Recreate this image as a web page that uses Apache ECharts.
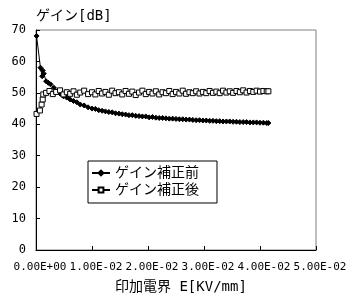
<!DOCTYPE html>
<html><head><meta charset="utf-8">
<script src="https://cdn.jsdelivr.net/npm/echarts@6/dist/echarts.min.js"></script>
<style>html,body{margin:0;padding:0;background:#fff}#c{width:355px;height:299px}</style>
</head><body><div id="c"></div>
<script>
const seriesNames = ['ゲイン補正前', 'ゲイン補正後'];
const yTitle = 'ゲイン[dB]';
const xTitle = '印加電界 E[KV/mm]';
const xTicks = [0, 0.01, 0.02, 0.03, 0.04, 0.05];
const yTicks = [0, 10, 20, 30, 40, 50, 60, 70];

const e1 = [0.0001, 0.0008, 0.0011, 0.0012, 0.0014, 0.0018, 0.0022, 0.0026, 0.0032, 0.0038,
  0.0043, 0.0049, 0.0055, 0.0061, 0.0067, 0.0073, 0.0079, 0.0086, 0.0093, 0.0100,
  0.0106, 0.0112, 0.0118, 0.0124, 0.0130, 0.0136, 0.0142, 0.0148, 0.0154, 0.0160,
  0.0166, 0.0172, 0.0178, 0.0184, 0.0190, 0.0196, 0.0202, 0.0208, 0.0214, 0.0220,
  0.0226, 0.0232, 0.0238, 0.0244, 0.0250, 0.0256, 0.0262, 0.0268, 0.0274, 0.0280,
  0.0286, 0.0292, 0.0298, 0.0304, 0.0310, 0.0316, 0.0322, 0.0328, 0.0334, 0.0340,
  0.0346, 0.0352, 0.0358, 0.0364, 0.0370, 0.0376, 0.0382, 0.0388, 0.0394, 0.0400,
  0.0406, 0.0412, 0.0415];
const g1 = [68.1, 58.0, 55.3, 57.1, 56.1, 53.7, 53.2, 52.7, 51.6, 50.5,
  49.8, 48.9, 48.5, 47.9, 47.4, 47.0, 46.3, 46.0, 45.4, 45.0,
  44.9, 44.5, 44.3, 44.1, 43.9, 43.8, 43.5, 43.4, 43.2, 43.1,
  42.9, 42.9, 42.7, 42.6, 42.5, 42.5, 42.2, 42.3, 42.1, 42.0,
  42.0, 41.9, 41.8, 41.8, 41.7, 41.6, 41.6, 41.5, 41.5, 41.4,
  41.3, 41.3, 41.2, 41.2, 41.1, 41.1, 41.0, 41.0, 40.9, 40.9,
  40.9, 40.8, 40.8, 40.7, 40.7, 40.7, 40.6, 40.6, 40.6, 40.5,
  40.5, 40.4, 40.4];

const e2 = [0.0001, 0.0007, 0.0010, 0.0012, 0.0013, 0.0018, 0.0024, 0.0030, 0.0036, 0.0043,
  0.0049, 0.0055, 0.0061, 0.0067, 0.0073, 0.0079, 0.0086, 0.0093, 0.0100,
  0.0106, 0.0112, 0.0118, 0.0124, 0.0130, 0.0136, 0.0142, 0.0148, 0.0154, 0.0160,
  0.0166, 0.0172, 0.0178, 0.0184, 0.0190, 0.0196, 0.0202, 0.0208, 0.0214, 0.0220,
  0.0226, 0.0232, 0.0238, 0.0244, 0.0250, 0.0256, 0.0262, 0.0268, 0.0274, 0.0280,
  0.0286, 0.0292, 0.0298, 0.0304, 0.0310, 0.0316, 0.0322, 0.0328, 0.0334, 0.0340,
  0.0346, 0.0352, 0.0358, 0.0364, 0.0370, 0.0376, 0.0382, 0.0388, 0.0394, 0.0400,
  0.0406, 0.0412, 0.0415];
const g2 = [43.3, 44.4, 46.3, 47.9, 49.5, 50.0, 50.6, 49.6, 50.3, 50.8,
  49.5, 50.2, 49.7, 50.5, 49.4, 50.1, 50.7, 49.6, 50.2,
  49.5, 50.6, 49.8, 50.3, 49.4, 50.7, 49.9, 50.2, 49.5, 50.6,
  49.7, 50.4, 49.3, 50.1, 50.7, 49.6, 50.3, 49.8, 50.5, 49.5,
  50.2, 49.9, 50.6, 49.6, 50.3, 49.8, 50.7, 49.7, 50.2, 49.9,
  50.5, 49.8, 50.3, 49.9, 50.6, 50.0, 50.4, 49.9, 50.7, 50.1,
  50.5, 50.0, 50.6, 50.2, 50.8, 50.1, 50.6, 50.3, 50.7, 50.4,
  50.6, 50.5, 50.5];

function fmtE(v) {
  if (Math.abs(v) < 1e-12) return '0.00E+00';
  const e = Math.floor(Math.log10(Math.abs(v)) + 1e-9);
  const m = v / Math.pow(10, e);
  return m.toFixed(2) + 'E' + (e < 0 ? '-' : '+') + String(Math.abs(e)).padStart(2, '0');
}
const pairs = (xs, ys) => xs.map((x, i) => [x, ys[i]]).filter(p => p[1] != null);

const MONO = '"DejaVu Sans Mono", "Noto Sans CJK JP", monospace';
const CJK = '"DejaVu Sans Mono", "Noto Sans CJK JP", sans-serif';

const chart = echarts.init(document.getElementById('c'), null, {renderer: 'canvas'});
chart.setOption({
  animation: false,
  backgroundColor: '#fff',
  grid: {left: 36, right: 39, top: 30, bottom: 49, show: true, borderColor: '#808080', borderWidth: 1, containLabel: false},
  xAxis: {
    type: 'value', min: xTicks[0], max: xTicks[xTicks.length - 1], interval: 0.01,
    axisLine: {show: true, lineStyle: {color: '#000', width: 1}},
    axisTick: {show: true, inside: true, length: 4, lineStyle: {color: '#000'}},
    splitLine: {show: false},
    axisLabel: {formatter: fmtE, color: '#000', fontFamily: MONO, fontSize: 11, margin: 12, padding: [0, 0, 0, 8], showMinLabel: true, showMaxLabel: true}
  },
  yAxis: {
    type: 'value', min: yTicks[0], max: yTicks[yTicks.length - 1], interval: 10,
    axisLine: {show: true, lineStyle: {color: '#000', width: 1}},
    axisTick: {show: true, inside: true, length: 4, lineStyle: {color: '#000'}},
    splitLine: {show: false},
    axisLabel: {color: '#000', fontFamily: MONO, fontSize: 12, margin: 10}
  },
  legend: {
    orient: 'vertical', left: 88, top: 161,
    padding: [5, 18, 6, 3], itemGap: 3, itemWidth: 18, itemHeight: 6,
    backgroundColor: '#fff', borderColor: '#000', borderWidth: 1,
    textStyle: {color: '#000', fontFamily: CJK, fontSize: 14},
    data: seriesNames
  },
  graphic: [
    {type: 'text', left: 36, top: 9, style: {text: yTitle, fill: '#000', font: '14px ' + CJK}},
    {type: 'text', left: 115, top: 280, style: {text: xTitle, fill: '#000', font: '14px ' + CJK}}
  ],
  series: [
    {name: seriesNames[0], type: 'line', data: pairs(e1, g1), symbol: 'diamond', symbolSize: 5,
      itemStyle: {color: '#000', borderColor: '#000', borderWidth: 1}, lineStyle: {color: '#000', width: 1}, z: 2},
    {name: seriesNames[1], type: 'line', data: pairs(e2, g2), symbol: 'rect', symbolSize: 5,
      itemStyle: {color: '#fff', borderColor: '#000', borderWidth: 1}, lineStyle: {color: '#000', width: 1}, z: 3}
  ]
});
</script></body></html>
